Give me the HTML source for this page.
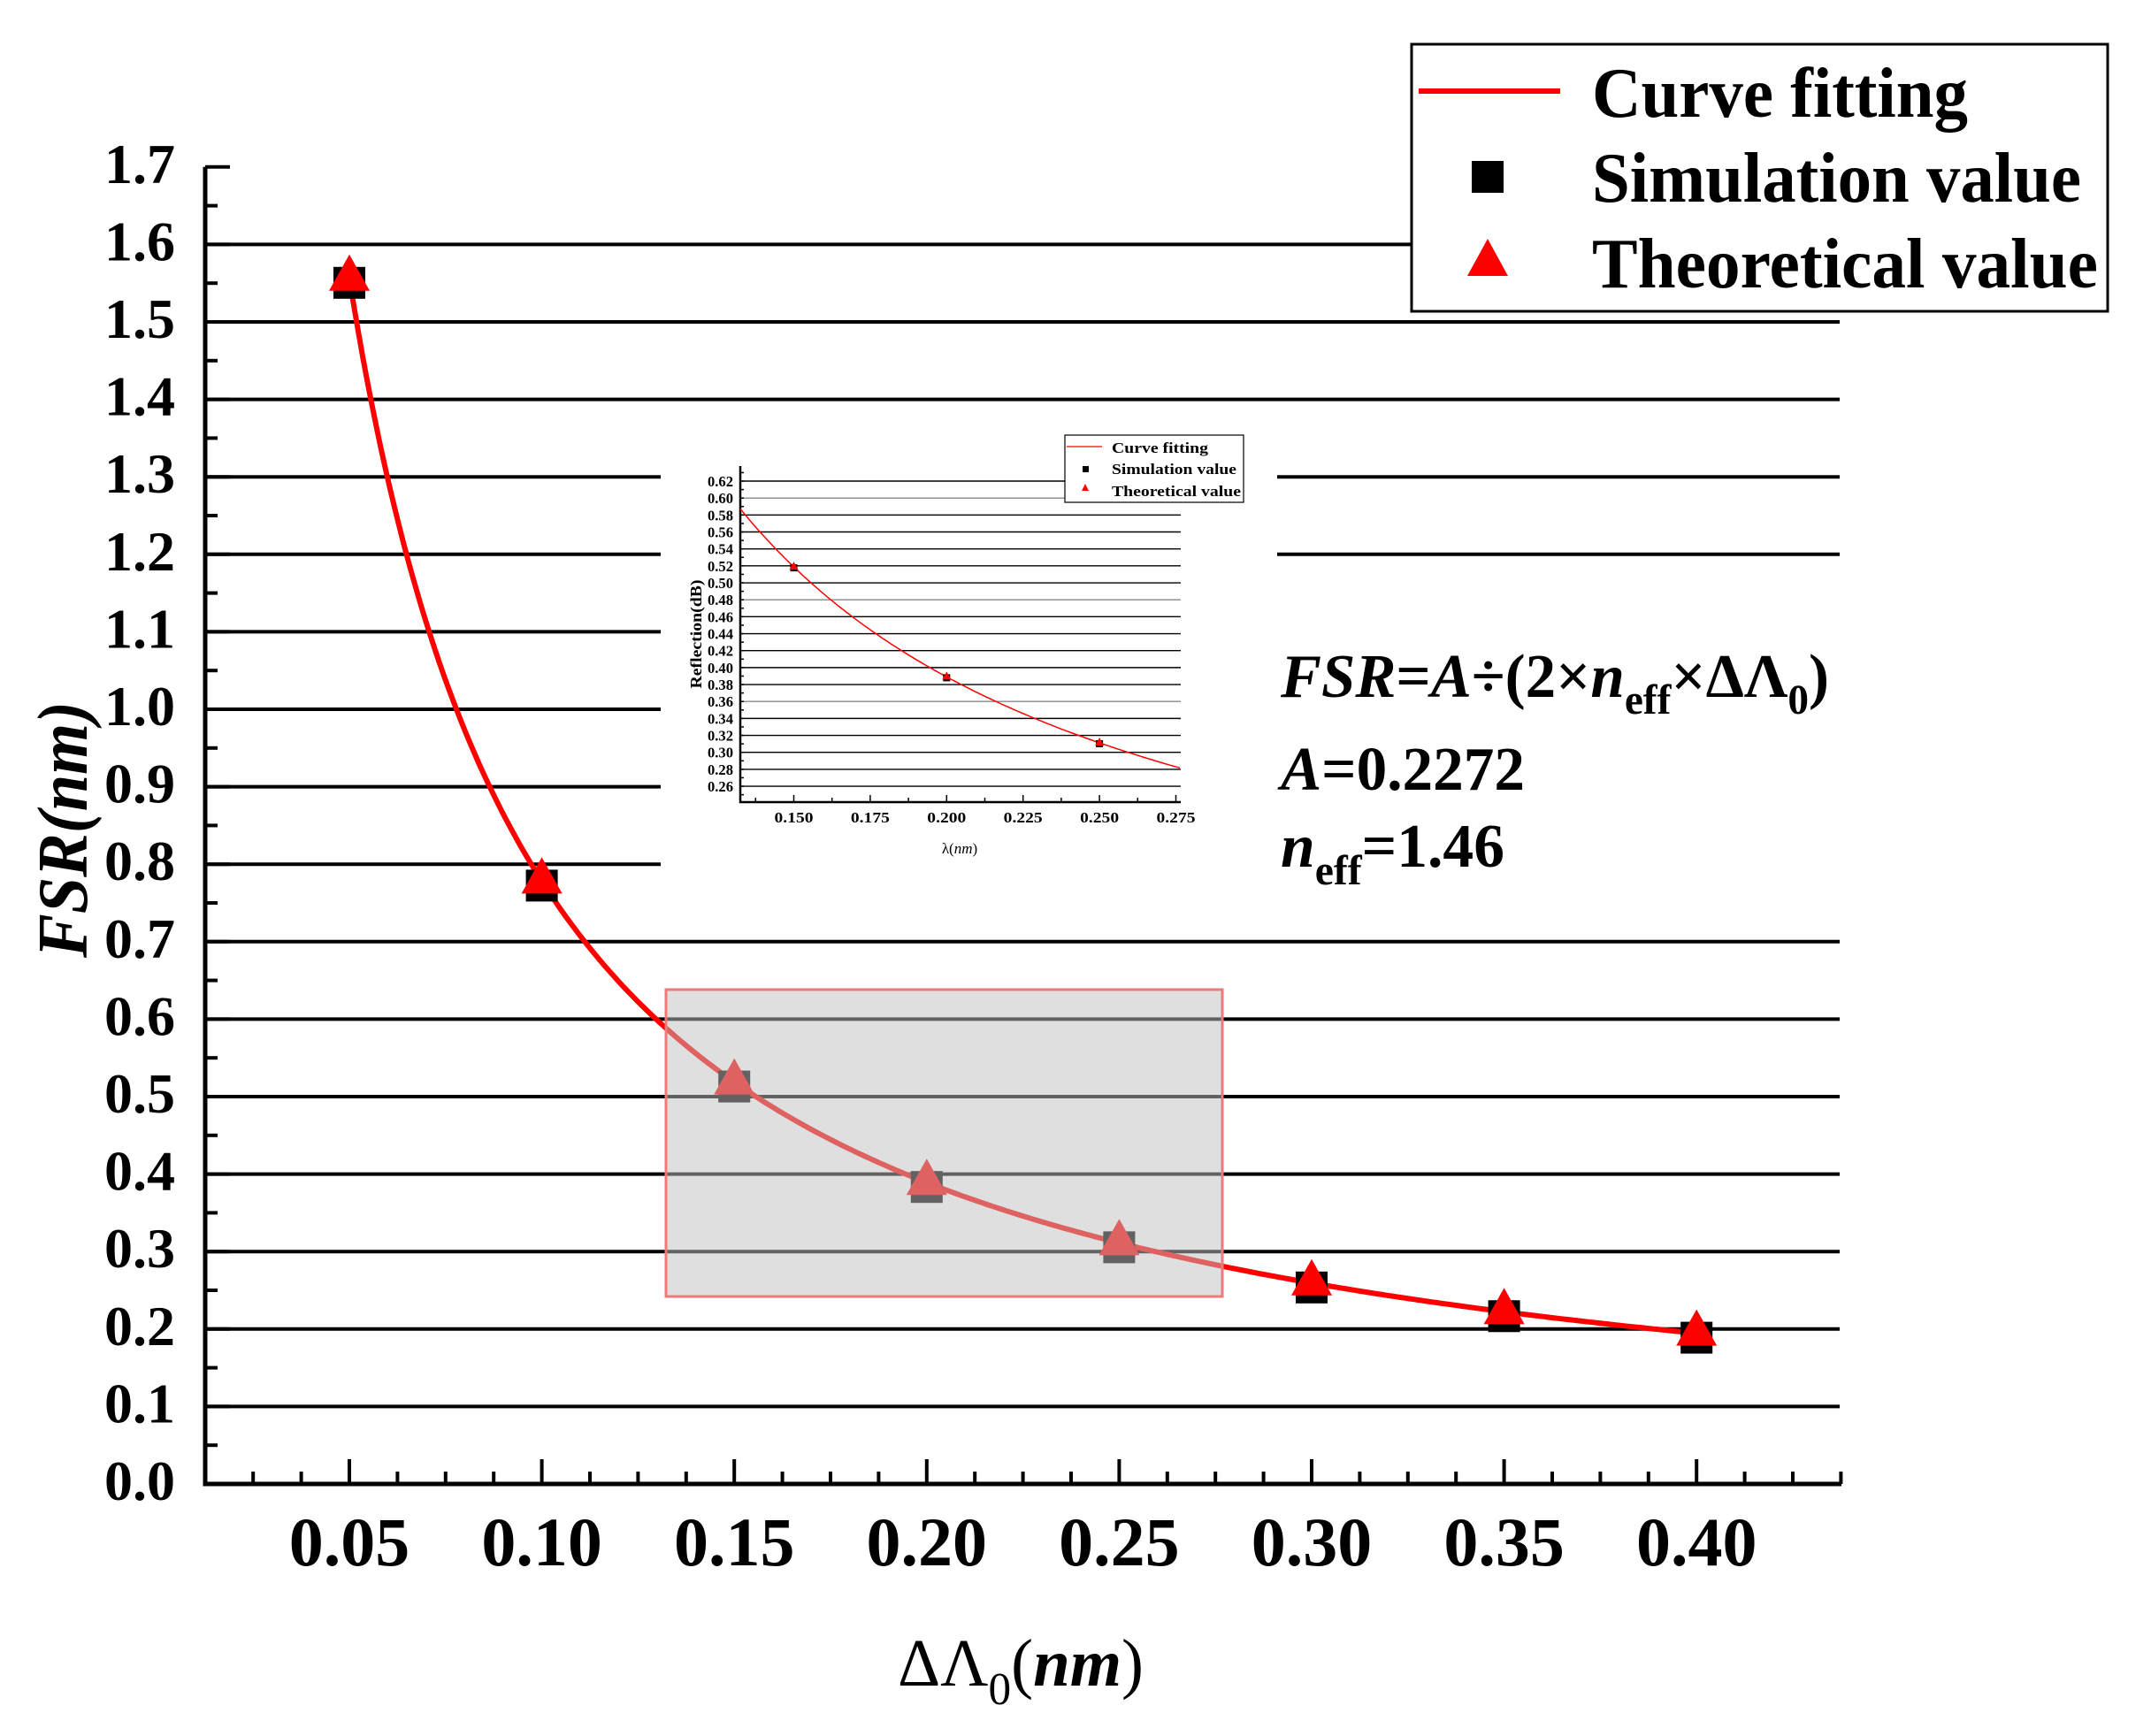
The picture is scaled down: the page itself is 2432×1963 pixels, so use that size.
<!DOCTYPE html>
<html><head><meta charset="utf-8"><style>
html,body{margin:0;padding:0;background:#fff;}
svg{display:block;}
text{font-family:"Liberation Serif",serif;}
</style></head><body>
<svg id="s" xmlns="http://www.w3.org/2000/svg" width="2432" height="1963" viewBox="0 0 2432 1963">
<rect width="2432" height="1963" fill="#fff"/>
<g id="grid" stroke="#000" stroke-width="4"></g>
<!-- white masks for inset -->
<rect x="747" y="470" width="697" height="200" fill="#fff"/>
<rect x="747" y="665" width="1340" height="335" fill="#fff"/>
<g id="axes" stroke="#000" stroke-width="4" fill="none"></g>
<path id="curve" fill="none" stroke="#f00" stroke-width="6"/>
<g id="pts"></g>
<rect x="753" y="1119" width="629" height="347" fill="rgb(192,192,192)" fill-opacity="0.51" stroke="rgb(240,120,120)" stroke-width="3"/>
<g font-weight="bold" font-size="64" text-anchor="end" id="ylab"></g>
<g font-weight="bold" font-size="78" text-anchor="middle" id="xlab"></g>
<text x="1015" y="1906" font-size="76" textLength="278" lengthAdjust="spacingAndGlyphs">ΔΛ<tspan font-size="52" dy="21">0</tspan><tspan dy="-21">(</tspan><tspan font-weight="bold" font-style="italic">nm</tspan>)</text>
<text transform="translate(98,938) rotate(-90)" text-anchor="middle" font-size="80" font-weight="bold" font-style="italic" textLength="290" lengthAdjust="spacingAndGlyphs">FSR(nm)</text>
<!-- formula -->
<g font-size="70" font-weight="bold">
<text x="1448" y="788" textLength="620" lengthAdjust="spacingAndGlyphs"><tspan font-style="italic">FSR</tspan>=<tspan font-style="italic">A</tspan>÷(2×<tspan font-style="italic">n</tspan><tspan font-size="48" dy="19">eff</tspan><tspan dy="-19">×ΔΛ</tspan><tspan font-size="48" dy="19">0</tspan><tspan dy="-19">)</tspan></text>
<text x="1448" y="893" textLength="276" lengthAdjust="spacingAndGlyphs"><tspan font-style="italic">A</tspan>=0.2272</text>
<text x="1448" y="980" textLength="253" lengthAdjust="spacingAndGlyphs"><tspan font-style="italic">n</tspan><tspan font-size="48" dy="20">eff</tspan><tspan dy="-20">=1.46</tspan></text>
</g>
<!-- legend -->
<rect x="1596" y="50" width="787" height="302" fill="#fff" stroke="#000" stroke-width="3"/>
<line x1="1604" y1="103" x2="1764" y2="103" stroke="#f00" stroke-width="6"/>
<rect x="1664" y="182" width="36" height="36" fill="#000"/>
<polygon points="1682,270 1705,312 1659,312" fill="#f00"/>
<g font-size="80" font-weight="bold">
<text x="1800" y="132" textLength="425" lengthAdjust="spacingAndGlyphs">Curve fitting</text>
<text x="1800" y="228" textLength="553" lengthAdjust="spacingAndGlyphs">Simulation value</text>
<text x="1800" y="325" textLength="572" lengthAdjust="spacingAndGlyphs">Theoretical value</text>
</g>
<!-- inset -->
<g id="inset"></g>
</svg>
<script>
var NS="http://www.w3.org/2000/svg";
function el(p,t,a,txt){var e=document.createElementNS(NS,t);for(var k in a)e.setAttribute(k,a[k]);if(txt!=null)e.textContent=txt;p.appendChild(e);return e;}
var X0=232,X1=2080,Y0=1678,PY=87.6;
function mx(v){return 395+(v-0.05)/0.05*217.6;}
function my(v){return Y0-v*PY*10;}
var grid=document.getElementById('grid');
for(var i=1;i<=16;i++){var y=my(i/10);el(grid,'line',{x1:X0,y1:y,x2:X1,y2:y});}
var ax=document.getElementById('axes');
el(ax,'path',{d:'M'+X0+' '+(my(1.7))+' V'+Y0+' H'+(X1+2),'stroke-width':5});
for(var i=0;i<=34;i++){var v=i*0.05,y=my(v);var L=(i%2==0)?28:14;el(ax,'line',{x1:X0,y1:y,x2:X0+L,y2:y});}
for(var i=1;i<=35;i++){var v=0.0125*i,x=mx(v);var L=(i%4==0)?28:14;el(ax,'line',{x1:x,y1:Y0,x2:x,y2:Y0-L});}
var yl=document.getElementById('ylab');
for(var i=0;i<=17;i++){el(yl,'text',{x:198,y:my(i/10)+18},(i/10).toFixed(1));}
var xl=document.getElementById('xlab');
for(var i=1;i<=8;i++){el(xl,'text',{x:mx(i*0.05),y:1770},(i*0.05).toFixed(2));}
var f=function(x){return 0.2272/(2*1.46*x);};
var d='';for(var i=0;i<=300;i++){var x=0.05+0.35*i/300;d+=(i?'L':'M')+mx(x).toFixed(1)+' '+my(f(x)).toFixed(1);}
document.getElementById('curve').setAttribute('d',d);
var pts=document.getElementById('pts');
for(var i=1;i<=8;i++){var x=mx(i*0.05),y=my(f(i*0.05));
el(pts,'rect',{x:x-18,y:y-13,width:36,height:36,fill:'#000'});
el(pts,'polygon',{points:(x)+','+(y-27)+' '+(x+23)+','+(y+14)+' '+(x-23)+','+(y+14),fill:'#f00'});}
// inset
var g=document.getElementById('inset');
var IL=837,IR=1335,IB=907,IT=527;
function ix(v){return 897.5+(v-0.15)/0.025*86.4;}
function iy(v){return 544+(0.62-v)/0.02*19.17;}
for(var i=0;i<=18;i++){var v=0.26+i*0.02,y=iy(v);var xr=(v>0.59)?1204:IR;
el(g,'line',{x1:IL,y1:y,x2:xr,y2:y,stroke:(i==17||i==11||i==5)?'#888':'#000','stroke-width':1.4});
el(g,'text',{x:829,y:y+6,'font-size':17,'font-weight':'bold','text-anchor':'end',textLength:29,lengthAdjust:'spacingAndGlyphs'},v.toFixed(2));}
el(g,'path',{d:'M'+IL+' '+IT+' V'+IB+' H'+IR,stroke:'#000','stroke-width':2.5,fill:'none'});
for(var v=0.25;v<=0.635;v+=0.01){var y=iy(v);el(g,'line',{x1:IL,y1:y,x2:IL+4,y2:y,stroke:'#000','stroke-width':1.5});}
for(var i=0;i<=11;i++){var v=0.1375+i*0.0125,x=ix(v);if(x>IR+1)break;var L=(i%2==1)?8:5;el(g,'line',{x1:x,y1:IB,x2:x,y2:IB-L,stroke:'#000','stroke-width':1.5});}
[0.15,0.175,0.2,0.225,0.25,0.275].forEach(function(v){el(g,'text',{x:ix(v),y:930,'font-size':17,'font-weight':'bold','text-anchor':'middle',textLength:44,lengthAdjust:'spacingAndGlyphs'},v.toFixed(3));});
var d2='';for(var i=0;i<=120;i++){var x=0.1325+(0.2763-0.1325)*i/120;d2+=(i?'L':'M')+ix(x).toFixed(1)+' '+iy(f(x)).toFixed(1);}
el(g,'path',{d:d2,fill:'none',stroke:'#f00','stroke-width':1.5});
[0.15,0.2,0.25].forEach(function(v){var x=ix(v),y=iy(f(v));el(g,'rect',{x:x-4,y:y-3,width:8,height:8,fill:'#000'});el(g,'polygon',{points:x+','+(y-6)+' '+(x+5)+','+(y+3)+' '+(x-5)+','+(y+3),fill:'#f00'});});
var t=el(g,'text',{x:1085,y:965,'font-size':17,'text-anchor':'middle'},'λ(');var ts=el(t,'tspan',{'font-style':'italic'},'nm');el(t,'tspan',{},')');
el(g,'text',{transform:'translate(793,717) rotate(-90)','font-size':18,'font-weight':'bold','text-anchor':'middle',textLength:123,lengthAdjust:'spacingAndGlyphs'},'Reflection(dB)');
el(g,'rect',{x:1204,y:492,width:202,height:76,fill:'#fff',stroke:'#000','stroke-width':1.2});
el(g,'line',{x1:1206,y1:505,x2:1246,y2:505,stroke:'#f00','stroke-width':1.3});
el(g,'rect',{x:1224,y:527,width:7,height:7,fill:'#000'});
el(g,'polygon',{points:'1227,547 1231,555 1223,555',fill:'#f00'});
el(g,'text',{x:1257,y:512,'font-size':17,'font-weight':'bold',textLength:109,lengthAdjust:'spacingAndGlyphs'},'Curve fitting');
el(g,'text',{x:1257,y:536,'font-size':17,'font-weight':'bold',textLength:141,lengthAdjust:'spacingAndGlyphs'},'Simulation value');
el(g,'text',{x:1257,y:561,'font-size':17,'font-weight':'bold',textLength:146,lengthAdjust:'spacingAndGlyphs'},'Theoretical value');
</script>
</body></html>
